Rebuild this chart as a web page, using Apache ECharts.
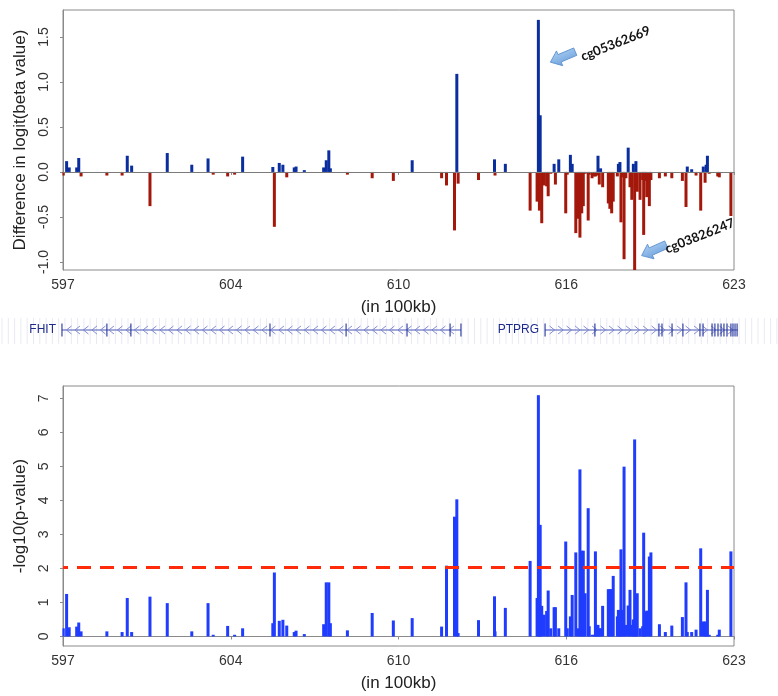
<!DOCTYPE html>
<html>
<head>
<meta charset="utf-8">
<script src="https://cdn.jsdelivr.net/npm/echarts@6/dist/echarts.min.js"></script>
<style>
  html, body { margin: 0; padding: 0; background: #fff; }
  #main { width: 778px; height: 696px; }
</style>
</head>
<body>
<div id="main"></div>
<script>
// CpG positions (in 100kb)
var cpgPos = [
  597.01, 597.14, 597.24, 597.53, 597.61, 597.70, 598.70, 599.29, 599.49, 599.66,
  600.37, 601.04, 601.99, 602.62, 602.82, 603.38, 603.65, 603.96,
  605.13, 605.19, 605.38, 605.52, 605.67, 605.96, 606.03, 606.35, 607.10, 607.20,
  607.30, 607.36, 608.02, 608.98, 609.80, 610.53, 611.67, 611.86, 612.17, 612.26,
  612.31, 613.10, 613.72, 613.74, 614.14,
  615.10, 615.37, 615.42, 615.46, 615.49, 615.55, 615.64, 615.74, 615.80, 615.90,
  616.03, 616.08, 616.21, 616.48, 616.54, 616.66, 616.73, 616.87, 616.97, 617.03,
  617.10, 617.16, 617.23, 617.35, 617.39, 617.50, 617.58, 617.63, 617.68, 617.73,
  617.78, 617.83, 617.91, 618.13, 618.19, 618.26, 618.32, 618.48, 618.52, 618.58,
  618.62, 618.69, 618.74, 618.81, 618.90, 618.97, 619.04, 619.10, 619.15, 619.20,
  619.25, 619.36, 619.46, 619.50, 619.56, 619.62, 619.72, 619.78, 620.11, 620.34,
  620.59, 621.00, 621.14, 621.19, 621.36, 621.53, 621.71, 621.81, 621.88, 621.92,
  621.97, 622.04, 622.37, 622.43, 622.88
];
// difference in logit(beta value)
var diffLogit = [
  -0.04, 0.12, 0.05, 0.05, 0.155, -0.05, -0.04, -0.04, 0.18, 0.07,
  -0.38, 0.21, 0.08, 0.15, -0.03, -0.05, -0.03, 0.17,
  0.055, -0.61, 0.10, 0.08, -0.06, 0.05, 0.06, 0.02, 0.05, 0.13,
  0.24, 0.04, -0.03, -0.07, -0.10, 0.13, -0.07, -0.15, -0.65, 1.09,
  -0.13, -0.09, 0.14, -0.04, 0.09,
  -0.43, -0.33, 1.69, -0.43, 0.63, -0.57, -0.15, -0.16, -0.27, -0.02,
  0.09, -0.14, 0.14, -0.46, -0.03, 0.19, 0.09, -0.68, -0.52, -0.73,
  -0.46, -0.38, -0.02, -0.54, -0.03, -0.07, -0.05, -0.05, -0.04, 0.18,
  -0.14, 0.04, -0.17, -0.35, -0.41, -0.46, -0.33, -0.05, 0.09, 0.11,
  -0.56, -0.06, -0.97, -0.07, 0.27, -0.17, -0.31, 0.09, -1.09, 0.12,
  -0.22, -0.31, -0.09, -0.70, -0.10, -0.28, -0.38, -0.09, -0.07, -0.05,
  -0.07, -0.10, -0.39, 0.06, 0.03, -0.04, -0.43, 0.06, -0.12, 0.08,
  0.18, -0.02, -0.05, -0.06, -0.49
];
// -log10(p-value)
var negLog10P = [
  0.24, 1.25, 0.27, 0.29, 0.41, 0.15, 0.15, 0.13, 1.13, 0.13,
  1.17, 0.98, 0.15, 0.98, 0.05, 0.31, 0.05, 0.24,
  0.39, 1.88, 0.46, 0.49, 0.32, 0.13, 0.17, 0.07, 0.36, 1.59,
  1.59, 0.39, 0.18, 0.69, 0.47, 0.54, 0.29, 2.08, 3.52, 4.03,
  0.10, 0.48, 1.18, 0.15, 0.84,
  2.22, 1.13, 7.09, 2.00, 3.28, 0.90, 0.64, 0.75, 1.35, 0.24,
  0.86, 0.86, 0.24, 2.79, 0.24, 0.59, 1.22, 2.47, 0.24, 4.91,
  2.52, 2.52, 1.27, 3.77, 0.30, 0.05, 0.05, 2.50, 0.34, 0.34,
  0.24, 0.24, 0.90, 1.39, 1.39, 1.39, 1.78, 0.59, 0.78, 0.78,
  2.56, 0.78, 4.99, 0.34, 0.91, 1.37, 0.34, 0.50, 5.79, 1.17,
  1.27, 0.24, 0.30, 3.05, 0.73, 0.76, 2.35, 2.47, 0.36, 0.13,
  0.32, 0.57, 1.59, 0.13, 0.13, 0.20, 2.59, 0.44, 0.44, 0.30,
  1.37, 0.05, 0.05, 0.20, 2.50
];

var xTicks = [597, 603.5, 610, 616.5, 623];
var xTickLabels = ['597', '604', '610', '616', '623'];
var diffTicks = [-1, -0.5, 0, 0.5, 1, 1.5];
var pTicks = [0, 1, 2, 3, 4, 5, 6, 7];
var threshold = 2.02;

// gene track
var geneNames = ['FHIT', 'PTPRG'];
var geneStart = [596.96, 615.68];
var geneEnd = [612.42, 623.15];
var geneStrand = [-1, 1];
var exonPos = [
  596.96, 598.70, 599.63, 605.02, 607.97, 610.33, 612.00, 612.42,
  615.68, 617.61, 620.09, 620.21, 620.60, 621.02, 621.68, 621.80,
  622.15, 622.26, 622.38, 622.50, 622.61, 622.73, 622.88, 622.96, 623.04, 623.12
];
var calloutIds = ['cg05362669', 'cg03826247'];

var FONT = '"Liberation Sans", Arial, sans-serif';
var blueTop = '#0b2e9e', redTop = '#a3180b', blueBottom = '#1f3cff';

var posData = [], negData = [], pData = [];
cpgPos.forEach(function (p, i) {
  if (diffLogit[i] >= 0) posData.push([p, diffLogit[i]]);
  else negData.push([p, diffLogit[i]]);
  pData.push([p, negLog10P[i]]);
});

function xAxisCfg(gridIndex) {
  return {
    type: 'value', gridIndex: gridIndex, min: 597, max: 623,
    name: '(in 100kb)', nameLocation: 'middle', nameGap: 29,
    nameTextStyle: { fontFamily: FONT, fontSize: 17, color: '#222' },
    axisLine: { show: true, lineStyle: { color: '#8a8a8a' } },
    axisTick: { show: true, length: 3, customValues: xTicks, lineStyle: { color: '#8a8a8a' } },
    axisLabel: {
      customValues: xTicks, margin: 8, fontFamily: FONT, fontSize: 14, color: '#333',
      formatter: function (v) { return xTickLabels[xTicks.indexOf(v)]; }
    },
    splitLine: { show: false }
  };
}
function yAxisCfg(gridIndex, min, max, ticks, name, digits) {
  return {
    type: 'value', gridIndex: gridIndex, min: min, max: max,
    name: name, nameLocation: 'middle', nameGap: 34,
    nameTextStyle: { fontFamily: FONT, fontSize: 17, color: '#222' },
    axisLine: { show: true, lineStyle: { color: '#8a8a8a' } },
    axisTick: { show: true, length: 3, customValues: ticks, lineStyle: { color: '#8a8a8a' } },
    axisLabel: {
      customValues: ticks, rotate: 90, margin: 12, fontFamily: FONT, fontSize: 14, color: '#333',
      formatter: function (v) { return v.toFixed(digits); }
    },
    splitLine: { show: false }
  };
}

var chart = echarts.init(document.getElementById('main'));

var option = {
  animation: false,
  backgroundColor: '#fff',
  grid: [
    { left: 63, right: 44, top: 10, height: 260, show: true, borderColor: '#8a8a8a', borderWidth: 1 },
    { left: 63, right: 44, top: 386, height: 260, show: true, borderColor: '#8a8a8a', borderWidth: 1 },
    { left: 63, right: 44, top: 320, height: 20, show: false }
  ],
  xAxis: [
    xAxisCfg(0),
    xAxisCfg(1),
    { type: 'value', gridIndex: 2, min: 597, max: 623, show: false }
  ],
  yAxis: [
    yAxisCfg(0, -1.09, 1.8, diffTicks, 'Difference in logit(beta value)', 1),
    yAxisCfg(1, -0.28, 7.36, pTicks, '-log10(p-value)', 0),
    { type: 'value', gridIndex: 2, min: 0, max: 1, show: false }
  ],
  series: [
    {
      type: 'bar', name: 'up', xAxisIndex: 0, yAxisIndex: 0, data: posData,
      barWidth: 3, barGap: '-100%', itemStyle: { color: blueTop },
      markLine: {
        silent: true, symbol: 'none', label: { show: false },
        lineStyle: { color: '#7a7a7a', width: 1, type: 'solid' },
        data: [{ yAxis: 0 }]
      }
    },
    {
      type: 'bar', name: 'down', xAxisIndex: 0, yAxisIndex: 0, data: negData,
      barWidth: 3, barGap: '-100%', itemStyle: { color: redTop }
    },
    {
      type: 'bar', name: 'pval', xAxisIndex: 1, yAxisIndex: 1, data: pData,
      barWidth: 3, itemStyle: { color: blueBottom },
      markLine: {
        silent: true, symbol: 'none', label: { show: false },
        lineStyle: { color: '#ff2a0a', width: 3, type: [14, 9], dashOffset: 9 },
        data: [{ yAxis: threshold }]
      }
    },
    {
      type: 'custom', xAxisIndex: 2, yAxisIndex: 2, clip: false,
      data: geneNames.map(function (n, i) { return [geneStart[i], geneEnd[i], geneStrand[i]]; }),
      renderItem: function (params, api) {
        var s = api.coord([api.value(0), 0.5]);
        var e = api.coord([api.value(1), 0.5]);
        var d = api.value(2);
        var y = s[1];
        var kids = [{
          type: 'line', shape: { x1: s[0], y1: y, x2: e[0], y2: y },
          style: { stroke: '#4856b4', lineWidth: 1 }
        }];
        for (var x = s[0] + 7; x < e[0] - 4; x += 8.5) {
          kids.push({
            type: 'polyline',
            shape: { points: [[x - 2.5 * d, y - 4], [x + 2.5 * d, y], [x - 2.5 * d, y + 4]] },
            style: { stroke: '#7480cc', fill: null, lineWidth: 0.9 }
          });
        }
        kids.push({
          type: 'text', x: s[0] - 6, y: y,
          style: {
            text: geneNames[params.dataIndex], align: 'right', verticalAlign: 'middle',
            fontFamily: FONT, fontSize: 12, fill: '#1c2a8c'
          }
        });
        return { type: 'group', children: kids };
      }
    },
    {
      type: 'scatter', xAxisIndex: 2, yAxisIndex: 2, clip: false, silent: true,
      symbol: 'rect', symbolSize: [1.4, 13],
      itemStyle: { color: '#26369c' },
      data: exonPos.map(function (p) { return [p, 0.5]; })
    }
  ]
};
chart.setOption(option);

// faint background stripes behind the gene track + callouts for two CpGs
var graphics = [];
for (var sx = 2; sx < 778; sx += 6.3) {
  graphics.push({
    type: 'line', z: -10, silent: true,
    shape: { x1: sx, y1: 318, x2: sx, y2: 344 },
    style: { stroke: '#e9e9f4', lineWidth: 1 }
  });
}
function arrowAt(tip, rot) {
  return {
    type: 'polygon', x: tip[0], y: tip[1], rotation: rot, silent: true,
    shape: { points: [[0, 0], [10, -8], [10, -4], [27, -4], [27, 4], [10, 4], [10, 8]] },
    style: {
      fill: new echarts.graphic.LinearGradient(0, 0, 0, 1, [
        { offset: 0, color: '#a9cdf2' }, { offset: 1, color: '#6fa2dc' }
      ]),
      stroke: '#5b8fcf', lineWidth: 0.8
    }
  };
}
function calloutText(pt, txt) {
  return {
    type: 'text', x: pt[0], y: pt[1], rotation: 0.38, silent: true,
    style: {
      text: txt, align: 'left', verticalAlign: 'middle',
      fontFamily: 'Lato, "Open Sans", sans-serif', fontWeight: 'bold', fontSize: 13, fill: '#111'
    }
  };
}
var iMax = diffLogit.indexOf(Math.max.apply(null, diffLogit));
var iMin = diffLogit.indexOf(Math.min.apply(null, diffLogit));
var pMax = chart.convertToPixel({ gridIndex: 0 }, [cpgPos[iMax], 1.22]);
var pMin = chart.convertToPixel({ gridIndex: 0 }, [cpgPos[iMin], -0.93]);
graphics.push(arrowAt([pMax[0] + 12, pMax[1]], 0.4));
graphics.push(calloutText([pMax[0] + 43, pMax[1] - 5], calloutIds[0]));
graphics.push(arrowAt([pMin[0] + 7, pMin[1]], 0.42));
graphics.push(calloutText([pMin[0] + 31, pMin[1] - 6], calloutIds[1]));
chart.setOption({ graphic: graphics });
</script>
</body>
</html>
